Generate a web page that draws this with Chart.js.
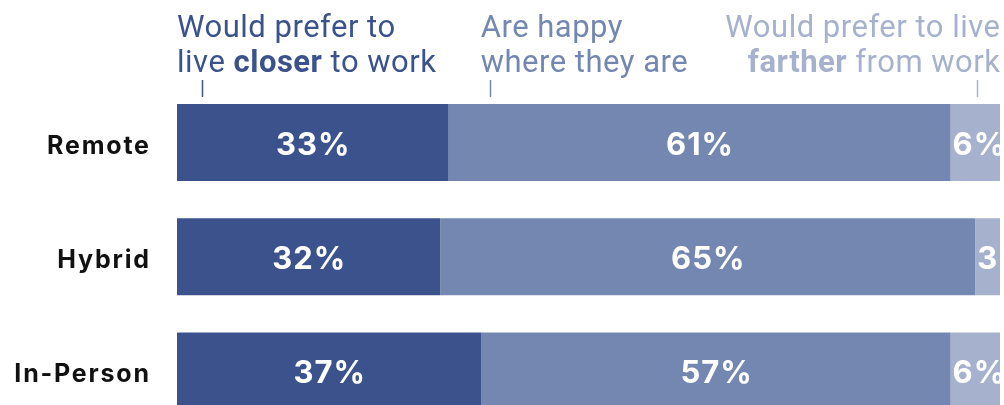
<!DOCTYPE html>
<html>
<head>
<meta charset="utf-8">
<script src="https://cdn.jsdelivr.net/npm/chart.js@4/dist/chart.umd.min.js"></script>
<style>
  html, body { margin: 0; padding: 0; background: #fff; overflow: hidden; }
  canvas { display: block; }
</style>
</head>
<body>
<canvas id="c" width="1004" height="428"></canvas>
<script>
// Work arrangement groups and where respondents would prefer to live
const categories = ['Remote', 'Hybrid', 'In-Person'];
const closerToWork = [33, 32, 37];
const happyWhereTheyAre = [61, 65, 57];
const fartherFromWork = [6, 3, 6];

const seriesNames = ['Would prefer to live closer to work', 'Are happy where they are', 'Would prefer to live farther from work'];
const seriesColors = ['#3b528c', '#7487b0', '#a6b2cd'];

const HEAD_FONT = 'Roboto, "Liberation Sans", sans-serif';
const BOLD_FONT = 'Inter, Roboto, "Liberation Sans", sans-serif';

// Two-line headers above the bars; bold runs are marked with b:true
const headers = [
  { color: seriesColors[0], align: 'left', anchor: 0, tick: 3,
    lines: [[{ t: 'Would prefer to' }], [{ t: 'live ' }, { t: 'closer', b: true }, { t: ' to work' }]] },
  { color: seriesColors[1], align: 'left', anchor: 36.9, tick: 38,
    lines: [[{ t: 'Are happy' }], [{ t: 'where they are' }]] },
  { color: seriesColors[2], align: 'right', anchor: 100, tick: 97.2,
    lines: [[{ t: 'Would prefer to live' }], [{ t: 'farther', b: true }, { t: ' from work' }]] }
];

const headerPlugin = {
  id: 'headers',
  afterDraw(chart) {
    const ctx = chart.ctx;
    const x = chart.scales.x;
    const size = 31;
    const ls = 0.5;
    ctx.save();
    ctx.textBaseline = 'alphabetic';
    ctx.textAlign = 'left';
    ctx.letterSpacing = ls + 'px';
    headers.forEach(h => {
      ctx.fillStyle = h.color;
      ctx.strokeStyle = h.color;
      h.lines.forEach((runs, i) => {
        const y = 37 + i * 35;
        const widths = runs.map(r => {
          ctx.font = (r.b ? 'bold ' : '') + size + 'px ' + HEAD_FONT;
          return ctx.measureText(r.t).width;
        });
        const total = widths.reduce((a, b) => a + b, 0);
        let px = x.getPixelForValue(h.anchor);
        if (h.align === 'right') px -= total - ls;
        runs.forEach((r, k) => {
          ctx.font = (r.b ? 'bold ' : '') + size + 'px ' + HEAD_FONT;
          ctx.fillText(r.t, px, y);
          px += widths[k];
        });
      });
      const tx = Math.round(x.getPixelForValue(h.tick)) + 0.5;
      ctx.lineWidth = 1.5;
      ctx.beginPath();
      ctx.moveTo(tx, 80);
      ctx.lineTo(tx, 97);
      ctx.stroke();
    });
    ctx.restore();
  }
};

// Row names to the left of each bar
const categoryLabelPlugin = {
  id: 'categoryLabels',
  afterDraw(chart) {
    const ctx = chart.ctx;
    const y = chart.scales.y;
    const ls = 1.8;
    ctx.save();
    ctx.font = 'bold 25px ' + BOLD_FONT;
    ctx.letterSpacing = ls + 'px';
    ctx.fillStyle = '#111111';
    ctx.textAlign = 'right';
    ctx.textBaseline = 'alphabetic';
    chart.data.labels.forEach((label, i) => {
      ctx.fillText(label, chart.chartArea.left - 28 + ls, y.getPixelForValue(i) + 11.5);
    });
    ctx.restore();
  }
};

// Percent labels inside each segment, clipped to the plot area
const valueLabelPlugin = {
  id: 'valueLabels',
  afterDatasetsDraw(chart) {
    const ctx = chart.ctx;
    const area = chart.chartArea;
    const ls = 1;
    ctx.save();
    ctx.beginPath();
    ctx.rect(area.left, area.top, area.right - area.left, area.bottom - area.top);
    ctx.clip();
    ctx.font = 'bold 31px ' + BOLD_FONT;
    ctx.letterSpacing = ls + 'px';
    ctx.fillStyle = '#ffffff';
    ctx.textBaseline = 'alphabetic';
    chart.data.datasets.forEach((ds, di) => {
      const meta = chart.getDatasetMeta(di);
      meta.data.forEach((bar, i) => {
        const text = ds.data[i] + '%';
        const left = Math.min(bar.base, bar.x);
        const right = Math.max(bar.base, bar.x);
        const w = ctx.measureText(text).width - ls;
        if (w <= right - left) {
          ctx.textAlign = 'center';
          ctx.fillText(text, (left + right) / 2 + ls / 2, bar.y + 12.5);
        } else {
          ctx.textAlign = 'left';
          ctx.fillText(text, left + 2, bar.y + 12.5);
        }
      });
    });
    ctx.restore();
  }
};

const values = [closerToWork, happyWhereTheyAre, fartherFromWork];

new Chart(document.getElementById('c'), {
  type: 'bar',
  data: {
    labels: categories,
    datasets: values.map((v, i) => ({
      label: seriesNames[i],
      data: v,
      backgroundColor: seriesColors[i],
      borderWidth: 0,
      categoryPercentage: 1,
      barPercentage: 0.675
    }))
  },
  options: {
    indexAxis: 'y',
    responsive: false,
    animation: false,
    events: [],
    // the canvas runs past the visible area so the last row is cut at the bottom edge
    layout: { padding: { top: 85.5, right: 4, bottom: 0, left: 177 } },
    plugins: { legend: { display: false }, tooltip: { enabled: false } },
    scales: {
      x: { stacked: true, min: 0, max: 100, display: false },
      y: { stacked: true, display: false }
    }
  },
  plugins: [headerPlugin, categoryLabelPlugin, valueLabelPlugin]
});
</script>
</body>
</html>
